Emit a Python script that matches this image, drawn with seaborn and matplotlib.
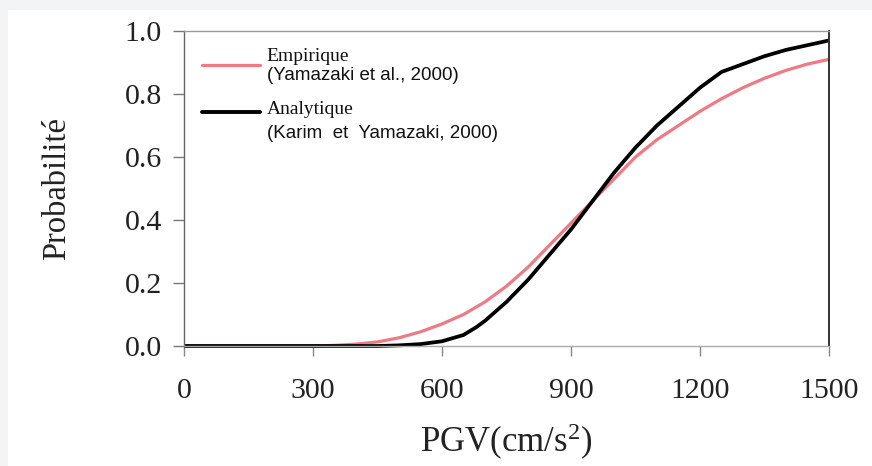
import matplotlib
matplotlib.use("Agg")
import matplotlib.pyplot as plt
from matplotlib.patches import Rectangle
from matplotlib.lines import Line2D
import pandas as pd
import seaborn as sns

# PGV values (cm/s^2) at which the fragility curves are sampled
pgv_empirique = [0, 300, 350, 400, 450, 500, 550, 600, 650, 700, 750, 800, 850,
                 900, 950, 1000, 1050, 1100, 1150, 1200, 1250, 1300, 1350,
                 1400, 1450, 1500]
prob_empirique = [0.0, 0.0, 0.002, 0.006, 0.013, 0.026, 0.045, 0.07, 0.10,
                  0.14, 0.19, 0.25, 0.32, 0.39, 0.46, 0.53, 0.60, 0.655,
                  0.70, 0.745, 0.785, 0.82, 0.85, 0.875, 0.895, 0.91]

pgv_analytique = [0, 300, 450, 500, 550, 600, 650, 680, 700, 750, 800, 850,
                  900, 950, 1000, 1050, 1100, 1150, 1200, 1250, 1300, 1350,
                  1400, 1450, 1500]
prob_analytique = [0.0, 0.0, 0.0, 0.002, 0.006, 0.015, 0.035, 0.06, 0.08,
                   0.14, 0.21, 0.29, 0.37, 0.46, 0.55, 0.63, 0.70, 0.76,
                   0.82, 0.87, 0.895, 0.92, 0.94, 0.955, 0.97]

series_names = ["Empirique", "Analytique"]
series_refs = ["(Yamazaki et al., 2000)", "(Karim  et  Yamazaki, 2000)"]
series_colors = ["#ee7a84", "#000000"]
x_ticks = [0, 300, 600, 900, 1200, 1500]
y_ticks = [0.0, 0.2, 0.4, 0.6, 0.8, 1.0]

df = pd.concat([
    pd.DataFrame({"PGV": pgv_empirique, "P": prob_empirique, "serie": series_names[0]}),
    pd.DataFrame({"PGV": pgv_analytique, "P": prob_analytique, "serie": series_names[1]}),
], ignore_index=True)

sns.set_theme(style="white")
plt.rcParams["font.family"] = ["Liberation Serif", "DejaVu Serif"]
plt.rcParams["mathtext.fontset"] = "custom"
plt.rcParams["mathtext.rm"] = "Liberation Serif"
plt.rcParams["mathtext.it"] = "Liberation Serif"

W, H = 872, 466
fig = plt.figure(figsize=(W / 100, H / 100), dpi=100, facecolor="#f3f4f6")
fig.patches.append(Rectangle((8 / W, 0), 1, (H - 10) / H, transform=fig.transFigure,
                             facecolor="white", edgecolor="none", zorder=-10))

ax = fig.add_axes([184 / W, (H - 346) / H, (829 - 184) / W, (346 - 31) / H])
ax.set_facecolor("white")

sns.lineplot(data=df, x="PGV", y="P", hue="serie", hue_order=series_names,
             palette=series_colors, ax=ax, legend=False, estimator=None,
             sort=True)
for line, lw in zip(ax.get_lines(), [2.3, 2.7]):
    line.set_linewidth(lw)
    line.set_clip_on(False)
    line.set_solid_capstyle("butt")

ax.set_xlim(0, 1500)
ax.set_ylim(0, 1.0)
ax.set_xticks(x_ticks)
ax.set_xticklabels([str(v) for v in x_ticks])
ax.set_yticks(y_ticks)
ax.set_yticklabels([f"{v:.1f}" for v in y_ticks])

ax.tick_params(axis="y", direction="out", length=8, width=1.0, color="#777777",
               labelsize=21.5, pad=8, labelcolor="#222222", left=True)
ax.tick_params(axis="x", direction="out", length=7, width=1.0, color="#888888",
               labelsize=21.5, pad=16, labelcolor="#222222", bottom=True)

ax.spines["left"].set_color("#666666")
ax.spines["bottom"].set_color("#aaaaaa")
ax.spines["top"].set_color("#999999")
ax.spines["right"].set_color("#333333")
for s in ax.spines.values():
    s.set_linewidth(1.0)
    s.set_visible(True)
ax.spines["right"].set_linewidth(1.4)

ax.set_xlabel("PGV(cm/s$^{2}$)", fontsize=25, color="#222222", labelpad=13)
ax.set_ylabel("Probabilité", fontsize=23.5, color="#222222", labelpad=38)
ax.grid(False)

# Legend: line sample, method name and reference for each curve
legend_rows = [(0.892, 0.918, 0.858), (0.743, 0.752, 0.676)]
for (y_line, y_name, y_ref), name, ref, col, lw in zip(
        legend_rows, series_names, series_refs, series_colors, [2.3, 2.8]):
    ax.add_line(Line2D([0.028, 0.118], [y_line, y_line], transform=ax.transAxes,
                       color=col, lw=lw))
    ax.text(0.128, y_name, name, transform=ax.transAxes, fontsize=14,
            va="center", ha="left", color="#111111",
            family=["Liberation Serif", "DejaVu Serif"])
    ax.text(0.128, y_ref, ref, transform=ax.transAxes, fontsize=13.5,
            va="center", ha="left", color="#111111",
            family=["Liberation Sans", "DejaVu Sans"])

fig.savefig("out.png", dpi=100, facecolor=fig.get_facecolor())
